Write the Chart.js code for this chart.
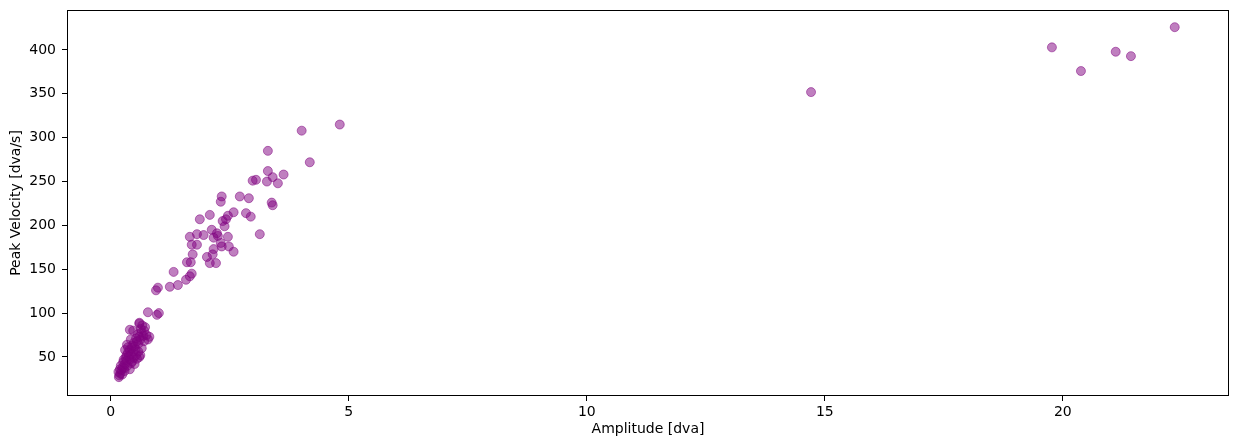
<!DOCTYPE html>
<html>
<head>
<meta charset="utf-8">
<script src="https://cdn.jsdelivr.net/npm/chart.js@4/dist/chart.umd.min.js"></script>
<style>
  body { margin: 0; background: #fff; }
  #wrap { width: 1238px; height: 448px; }
</style>
</head>
<body>
<div id="wrap"><canvas id="myChart"></canvas></div>
<script>
// Amplitud (dva) y velocidad pico (dva/s) de cada sacada
const amplitude = [
  0.17, 0.18, 0.20, 0.16, 0.22, 0.25, 0.21, 0.28, 0.30, 0.26, 0.33, 0.35, 0.31, 0.38, 0.36,
  0.40, 0.42, 0.39, 0.44, 0.47, 0.45, 0.50, 0.48, 0.52, 0.55, 0.53, 0.58, 0.60, 0.57, 0.62,
  0.65, 0.63, 0.68, 0.70, 0.66, 0.72, 0.60, 0.62, 0.55, 0.45, 0.50, 0.40, 0.36, 0.30, 0.34,
  0.42, 0.47, 0.60, 0.75, 0.78, 0.70, 0.65, 0.58, 0.53, 0.29, 0.24, 0.19, 0.27, 0.33, 0.43,
  0.48, 0.40, 0.81, 0.60,
  0.78, 1.01, 0.97, 0.95, 0.99,
  1.32, 1.24, 1.41, 1.58, 1.66, 1.70, 1.60, 1.68, 1.72, 1.66, 1.81, 1.95, 1.81, 1.70, 1.87,
  2.08, 2.02, 2.08, 2.21, 2.16, 2.14, 2.31, 2.33, 2.48, 2.58, 2.46, 2.12, 2.23, 2.25, 2.16,
  2.33, 2.31, 2.71, 2.90, 2.58, 2.84, 2.94, 2.46, 2.42, 2.35, 2.39, 3.13, 2.98, 3.05, 3.28,
  3.51, 3.30, 3.63, 3.40, 3.38, 3.40, 3.30, 4.01, 4.18, 4.81,
  14.71, 19.77, 20.38, 21.11, 21.43, 22.35
];
const peakVelocity = [
  27, 29, 31, 33, 35, 38, 40, 37, 42, 44, 46, 40, 49, 51, 55,
  47, 53, 58, 60, 56, 63, 62, 66, 59, 68, 71, 65, 73, 76, 70,
  78, 82, 74, 80, 86, 84, 50, 52, 48, 45, 42, 36, 61, 58, 64,
  70, 80, 88, 75, 70, 68, 60, 56, 52, 34, 30, 36, 47, 52, 43,
  49, 81, 73, 89,
  101, 100, 98, 126, 129,
  147, 130, 132, 138, 142, 145, 158, 158, 167, 187, 190, 189, 178, 178, 207,
  212, 164, 157, 157, 173, 167, 180, 176, 176, 170, 187, 195, 191, 188, 186,
  233, 227, 233, 231, 215, 214, 210, 211, 207, 205, 199, 190, 251, 252, 250,
  248, 262, 258, 255, 226, 223, 285, 308, 272, 315,
  352, 403, 376, 398, 393, 426
];
const xTicks = [0, 5, 10, 15, 20];
const yTicks = [50, 100, 150, 200, 250, 300, 350, 400];

const points = amplitude.map((a, i) => ({ x: a, y: peakVelocity[i] }));

// Dibujar el marco completo (4 lados) como en matplotlib
const frame = {
  id: "frame",
  afterDraw(chart) {
    const a = chart.chartArea;
    const c = chart.ctx;
    c.save();
    c.strokeStyle = "#000";
    c.lineWidth = 1;
    c.strokeRect(a.left + 0.5, a.top + 0.5, a.right - a.left - 1, a.bottom - a.top - 1);
    c.restore();
  },
};

const font = { family: "DejaVu Sans", size: 14 };

new Chart(document.getElementById("myChart"), {
  type: "scatter",
  data: {
    datasets: [
      {
        data: points,
        backgroundColor: "rgba(128, 0, 128, 0.5)",
        borderColor: "rgba(128, 0, 128, 0.5)",
        borderWidth: 1,
        pointRadius: 4.5,
      },
    ],
  },
  options: {
    responsive: true,
    maintainAspectRatio: false,
    animation: false,
    layout: { padding: { top: 10, right: 9, left: 0, bottom: 0 } },
    plugins: { legend: { display: false }, tooltip: { enabled: false } },
    scales: {
      x: {
        type: "linear",
        min: -0.92,
        max: 23.49,
        afterBuildTicks: (s) => { s.ticks = xTicks.map((v) => ({ value: v })); },
        afterFit: (s) => { s.height = 52; },
        grid: { drawOnChartArea: false, drawTicks: true, tickLength: 5, color: "#000" },
        border: { display: false },
        ticks: { color: "#000", font: font, padding: 3, maxRotation: 0 },
        title: { display: true, text: "Amplitude [dva]", color: "#000", font: font, padding: { top: 2, bottom: 10 } },
      },
      y: {
        type: "linear",
        min: 5.5,
        max: 445.6,
        afterBuildTicks: (s) => { s.ticks = yTicks.map((v) => ({ value: v })); },
        afterFit: (s) => { s.width = 67; s.paddingTop = 0; s.paddingBottom = 0; },
        grid: { drawOnChartArea: false, drawTicks: true, tickLength: 5, color: "#000" },
        border: { display: false },
        ticks: { color: "#000", font: font, padding: 6 },
        title: { display: true, text: "Peak Velocity [dva/s]", color: "#000", font: font, padding: { top: 8, bottom: 2 } },
      },
    },
  },
  plugins: [frame],
});
</script>
</body>
</html>
